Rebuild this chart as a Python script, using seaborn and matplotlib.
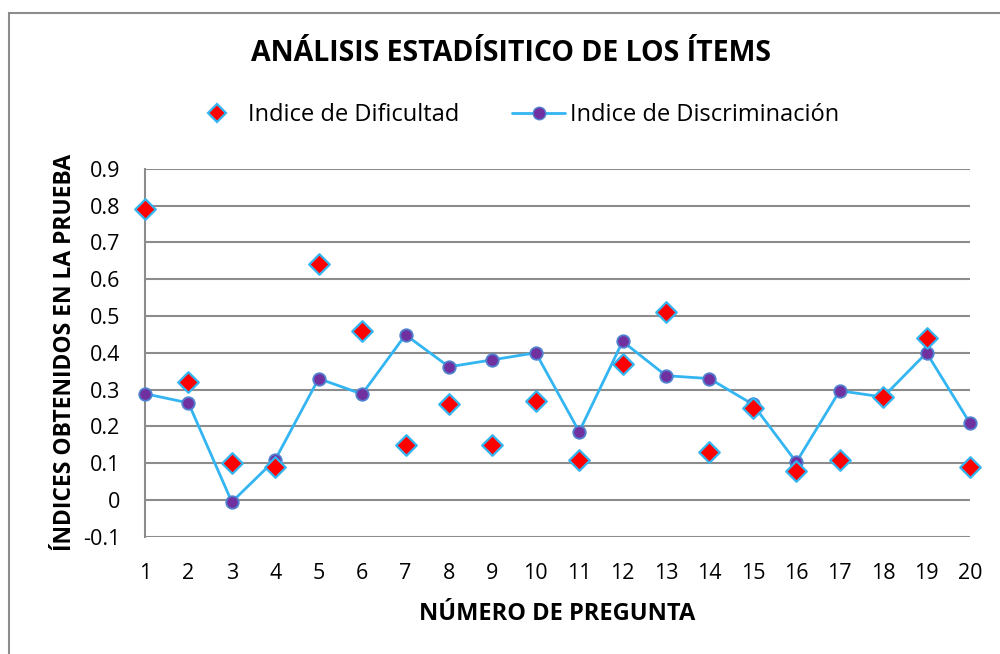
import matplotlib
matplotlib.use("Agg")
from matplotlib import pyplot as plt
from matplotlib.lines import Line2D
from matplotlib.patches import Rectangle
import numpy as np
import pandas as pd
import seaborn as sns

# chart data
preguntas = list(range(1, 21))
dificultad = [0.79, 0.32, 0.10, 0.09, 0.64, 0.46, 0.15, 0.26, 0.15, 0.27,
              0.11, 0.37, 0.51, 0.13, 0.25, 0.08, 0.11, 0.28, 0.44, 0.09]
discriminacion = [0.289, 0.264, -0.005, 0.11, 0.33, 0.288, 0.449, 0.362, 0.381, 0.40,
                  0.186, 0.431, 0.338, 0.33, 0.26, 0.103, 0.297, 0.28, 0.40, 0.209]
y_ticks = [-0.1, 0, 0.1, 0.2, 0.3, 0.4, 0.5, 0.6, 0.7, 0.8, 0.9]
y_tick_labels = ['-0.1', '0', '0.1', '0.2', '0.3', '0.4', '0.5', '0.6', '0.7', '0.8', '0.9']

df = pd.DataFrame({'pregunta': preguntas,
                   'dificultad': dificultad,
                   'discriminacion': discriminacion})

sns.set_style('white')
plt.rcParams['font.family'] = ['Open Sans', 'DejaVu Sans']
plt.rcParams['text.color'] = 'black'
plt.rcParams['axes.labelcolor'] = 'black'
plt.rcParams['xtick.color'] = 'black'
plt.rcParams['ytick.color'] = 'black'

line_col = '#33b5f2'
purple = '#7030a0'
edge_blue = '#4f81d0'

fig = plt.figure(figsize=(10, 6.54), dpi=100)
ax = fig.add_axes([0.145, 0.179, 0.825, 0.563])

# chart border
fig.patches.append(Rectangle((0.009, -0.05), 1.2, 1.03, transform=fig.transFigure,
                             fill=False, edgecolor='#8c8c8c', linewidth=1.5))

sns.lineplot(data=df, x='pregunta', y='discriminacion', ax=ax, color=line_col,
             linewidth=2, marker='o', markersize=9, markerfacecolor=purple,
             markeredgecolor=edge_blue, markeredgewidth=1.3, zorder=3)
sns.scatterplot(data=df, x='pregunta', y='dificultad', ax=ax, marker='D', s=110,
                color='#ff0000', edgecolor=line_col, linewidth=1.6, zorder=4)

ax.set_xlim(1, 20)
ax.set_ylim(-0.1, 0.9)
ax.set_xticks(preguntas)
ax.set_xticklabels([str(p) for p in preguntas], fontsize=15.5)
ax.set_yticks(y_ticks)
ax.set_yticklabels(y_tick_labels, fontsize=15.5)
ax.tick_params(axis='x', pad=19, length=0)
ax.tick_params(axis='y', pad=18, length=0)
ax.grid(axis='y', color='#8c8c8c', linewidth=1.5)
ax.set_axisbelow(True)
for s in ['top', 'right', 'bottom']:
    ax.spines[s].set_visible(False)
ax.spines['left'].set_color('#8c8c8c')
ax.spines['left'].set_linewidth(1.5)
for p in ax.lines + ax.collections:
    p.set_clip_on(False)

ax.set_xlabel('NÚMERO DE PREGUNTA', fontsize=17, fontweight='bold', labelpad=13)
ax.set_ylabel('ÍNDICES OBTENIDOS EN LA PRUEBA', fontsize=16.5, fontweight='bold', labelpad=4)
fig.text(0.511, 0.918, 'ANÁLISIS ESTADÍSITICO DE LOS ÍTEMS', ha='center', va='center',
         fontsize=20.5, fontweight='bold')

h_dif = Line2D([], [], linestyle='none', marker='D', markersize=9, markerfacecolor='#ff0000',
               markeredgecolor=line_col, markeredgewidth=1.6)
h_dis = Line2D([], [], color=line_col, linewidth=2, marker='o', markersize=9,
               markerfacecolor=purple, markeredgecolor=edge_blue)
fig.legend([h_dif], ['Indice de Dificultad'], loc='center left',
           bbox_to_anchor=(0.203, 0.824), frameon=False, fontsize=17,
           handlelength=1.2, handletextpad=0.7, borderpad=0, borderaxespad=0)
fig.legend([h_dis], ['Indice de Discriminación'], loc='center left',
           bbox_to_anchor=(0.512, 0.824), frameon=False, fontsize=17,
           handlelength=2.25, handletextpad=0.2, borderpad=0, borderaxespad=0)

fig.savefig('out.png', dpi=100)
